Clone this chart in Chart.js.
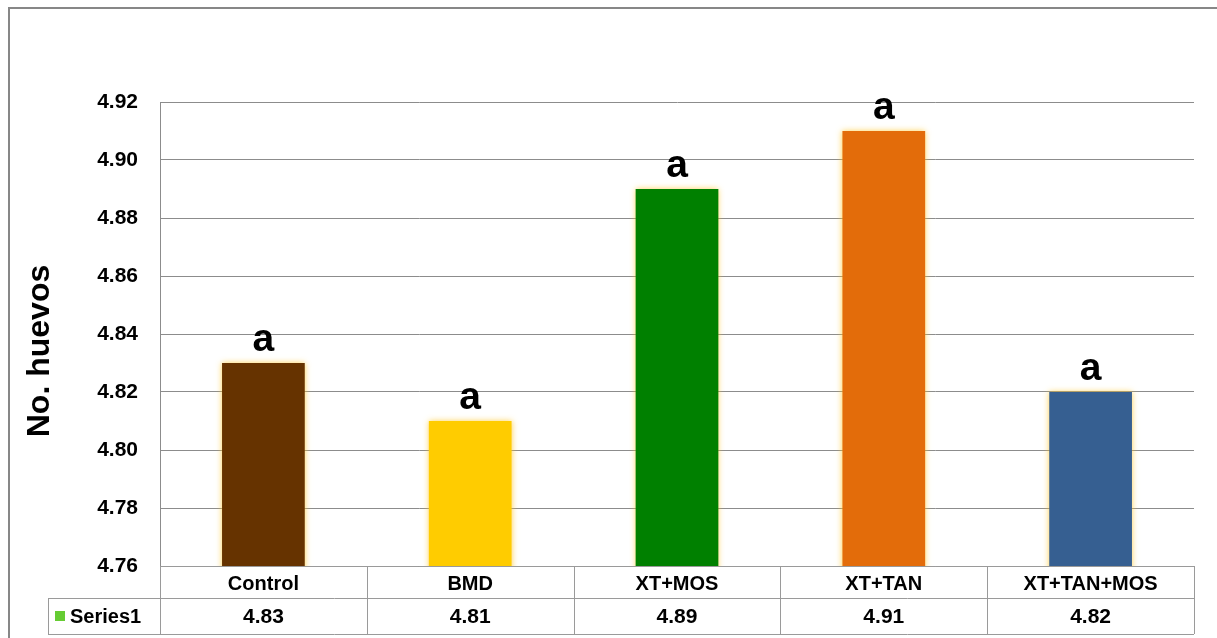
<!DOCTYPE html>
<html>
<head>
<meta charset="utf-8">
<script src="https://cdn.jsdelivr.net/npm/chart.js@4.4.1/dist/chart.umd.min.js"></script>
<style>
  html, body { margin: 0; padding: 0; background: #fff; }
  #wrap { width: 1217px; height: 638px; }
</style>
</head>
<body>
<div id="wrap"><canvas id="huevosChart" width="1217" height="638"></canvas></div>
<script>
const categories = ["Control", "BMD", "XT+MOS", "XT+TAN", "XT+TAN+MOS"];
const values = [4.83, 4.81, 4.89, 4.91, 4.82];
const letters = ["a", "a", "a", "a", "a"];
const barColors = ["#663300", "#FFCC00", "#008000", "#E36C0A", "#365F91"];
const seriesName = "Series1";
const yTitle = "No. huevos";

const font = "Arial, 'Liberation Sans', sans-serif";

// glow behind the bars, letters on top, data table under the axis, outer frame
const extras = {
  id: "extras",
  beforeDatasetsDraw(chart) {
    const ctx = chart.ctx;
    ctx.save();
    ctx.shadowColor = "rgba(255, 200, 40, 0.8)";
    ctx.shadowBlur = 6;
  },
  afterDatasetsDraw(chart) {
    const ctx = chart.ctx;
    ctx.restore();
    const meta = chart.getDatasetMeta(0);
    ctx.save();
    ctx.fillStyle = "#000";
    ctx.font = "bold 39px " + font;
    ctx.textAlign = "center";
    ctx.textBaseline = "alphabetic";
    meta.data.forEach((bar, i) => {
      ctx.fillText(letters[i], bar.x, bar.y - 12);
    });
    ctx.restore();
  },
  afterDraw(chart) {
    const ctx = chart.ctx;
    const x = chart.scales.x;
    const area = chart.chartArea;
    const step = (area.right - area.left) / categories.length;
    const rowTop = area.bottom;
    const rowMid = rowTop + 32;
    const rowBot = rowMid + 36;
    const legLeft = 48;
    ctx.save();
    ctx.strokeStyle = "#9a9a9a";
    ctx.lineWidth = 1;
    ctx.beginPath();
    // horizontal lines
    ctx.moveTo(area.left, rowTop + 0.5); ctx.lineTo(area.right, rowTop + 0.5);
    ctx.moveTo(legLeft, rowMid + 0.5); ctx.lineTo(area.right, rowMid + 0.5);
    ctx.moveTo(legLeft, rowBot + 0.5); ctx.lineTo(area.right, rowBot + 0.5);
    // vertical lines
    for (let i = 0; i <= categories.length; i++) {
      const vx = Math.round(area.left + i * step) + 0.5;
      ctx.moveTo(vx, rowTop); ctx.lineTo(vx, rowBot);
    }
    ctx.moveTo(legLeft + 0.5, rowMid); ctx.lineTo(legLeft + 0.5, rowBot);
    ctx.stroke();

    const midY = (rowMid + rowBot) / 2 + 1;
    ctx.fillStyle = "#000";
    ctx.font = "bold 21px " + font;
    ctx.textAlign = "center";
    ctx.textBaseline = "middle";
    values.forEach((v, i) => {
      ctx.fillText(v.toFixed(2), x.getPixelForValue(i), midY);
    });
    ctx.fillStyle = "#66CC33";
    ctx.fillRect(legLeft + 7, midY - 6, 10, 10);
    ctx.fillStyle = "#000";
    ctx.textAlign = "left";
    ctx.font = "bold 20px " + font;
    ctx.fillText(seriesName, legLeft + 22, midY);

    // y axis title, sits a bit lower than the axis middle
    ctx.save();
    ctx.translate(40, 351);
    ctx.rotate(-Math.PI / 2);
    ctx.textAlign = "center";
    ctx.font = "bold 32px " + font;
    ctx.fillText(yTitle, 0, 0);
    ctx.restore();

    // outer frame
    ctx.strokeStyle = "#878787";
    ctx.lineWidth = 2;
    ctx.strokeRect(9, 8, 1300, 800);
    ctx.restore();
  }
};

const ctx = document.getElementById("huevosChart").getContext("2d");
const huevosChart = new Chart(ctx, {
  type: "bar",
  data: {
    labels: categories,
    datasets: [
      {
        label: seriesName,
        data: values,
        backgroundColor: barColors,
        borderWidth: 0,
        categoryPercentage: 1,
        barPercentage: 0.4,
      },
    ],
  },
  options: {
    responsive: false,
    animation: false,
    layout: { padding: { top: 102, right: 23, bottom: 0, left: 8 } },
    plugins: {
      legend: { display: false },
      tooltip: { enabled: false },
    },
    scales: {
      x: {
        grid: { display: false, drawTicks: false },
        border: { display: false },
        ticks: {
          padding: 6,
          color: "#000",
          font: { family: font, size: 20, weight: "bold" },
        },
        afterFit(scale) { scale.height = 72; },
      },
      y: {
        min: 4.76,
        max: 4.92,
        grid: { color: "#8c8c8c", drawTicks: false },
        border: { color: "#8c8c8c" },
        ticks: {
          stepSize: 0.02,
          padding: 22,
          color: "#000",
          font: { family: font, size: 21, weight: "bold" },
          callback: (v) => v.toFixed(2),
        },
        afterFit(scale) { scale.width = 152; },
      },
    },
  },
  plugins: [extras],
});
</script>
</body>
</html>
